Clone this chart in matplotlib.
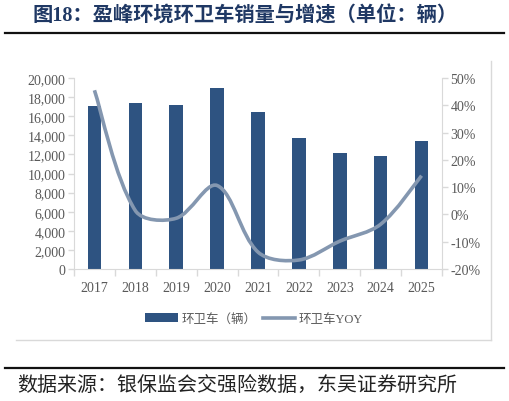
import matplotlib
matplotlib.use("Agg")
import matplotlib.pyplot as plt
from matplotlib.path import Path
from matplotlib.patches import PathPatch, Patch
from matplotlib.lines import Line2D
from matplotlib.ticker import FuncFormatter
import numpy as np

years = ["2017", "2018", "2019", "2020", "2021", "2022", "2023", "2024", "2025"]
sales = [17100, 17400, 17200, 19000, 16400, 13700, 12150, 11800, 13400]
yoy = [45.5, 1.4, -1.4, 10.6, -13.8, -16.7, -9.8, -3.6, 14.2]

title = "图18：盈峰环境环卫车销量与增速（单位：辆）"
source = "数据来源：银保监会交强险数据，东吴证券研究所"
bar_label = "环卫车（辆）"
line_label = "环卫车YOY"

BAR_C = "#2E5381"
LINE_C = "#8497B0"
TXT_C = "#595959"
AX_C = "#D9D9D9"
W, H = 509, 402

cjk = ["Noto Sans CJK SC", "DejaVu Sans"]
mixed = ["Liberation Serif", "Noto Sans CJK SC", "DejaVu Sans"]
serif = ["Liberation Serif", "DejaVu Serif"]

fig = plt.figure(figsize=(W / 100, H / 100), dpi=100)
ax = fig.add_axes([74 / W, 1 - 270 / H, (442 - 74) / W, (270 - 79) / H])
ax2 = ax.twinx()

x = np.arange(len(years))
ax.bar(x, sales, width=0.33, color=BAR_C, zorder=2)
ax.set_xlim(-0.5, len(years) - 0.5)
ax.set_ylim(0, 20000)
ax.set_yticks(np.arange(0, 20001, 2000))
ax.yaxis.set_major_formatter(FuncFormatter(lambda v, p: f"{int(v):,}"))
ax.set_xticks(x)
ax.set_xticklabels(years)
ax.set_xticks(np.arange(-0.5, len(years), 1.0), minor=True)
ax.tick_params(axis="x", which="major", length=0, pad=9)
ax.tick_params(axis="x", which="minor", length=5, color=AX_C, width=1)
ax.tick_params(axis="y", length=4, color=AX_C, width=1, pad=2)

ax2.set_ylim(-20, 50)
ax2.set_xlim(-0.5, len(years) - 0.5)
ax2.set_yticks(np.arange(-20, 51, 10))
ax2.yaxis.set_major_formatter(FuncFormatter(lambda v, p: f"{int(v)}%"))
ax2.tick_params(axis="y", length=4, color=AX_C, width=1, pad=2)

for a in (ax, ax2):
    a.spines["top"].set_visible(False)
    for lab in a.get_xticklabels() + a.get_yticklabels():
        lab.set_fontfamily(serif)
        lab.set_fontsize(10)
        lab.set_color(TXT_C)
ax.spines["right"].set_visible(False)
ax2.spines["right"].set_color(AX_C)
ax2.spines["left"].set_visible(False)
ax2.spines["bottom"].set_visible(False)
ax.spines["left"].set_color(AX_C)
ax.spines["bottom"].set_color(AX_C)

# smoothed line (Excel-like Bezier through the data points, computed in display space)
tr = ax2.transData
pts = tr.transform(np.column_stack([x.astype(float), np.array(yoy, dtype=float)]))
n = len(pts)
verts = [pts[0]]
codes = [Path.MOVETO]
def ctrl(i):
    if i == 0:
        T = pts[1] - pts[0]
        return pts[0], pts[0] + T / 6.0
    if i == n - 1:
        T = pts[-1] - pts[-2]
        return pts[-1] - T / 6.0, pts[-1]
    d1 = np.linalg.norm(pts[i] - pts[i - 1])
    d2 = np.linalg.norm(pts[i + 1] - pts[i])
    T = pts[i + 1] - pts[i - 1]
    return pts[i] - T * d1 / (d1 + d2) / 3.0, pts[i] + T * d2 / (d1 + d2) / 3.0
for i in range(n - 1):
    c1 = ctrl(i)[1]
    c2 = ctrl(i + 1)[0]
    verts += [c1, c2, pts[i + 1]]
    codes += [Path.CURVE4] * 3
verts = tr.inverted().transform(np.array(verts))
path = Path(verts, codes)
ax2.add_patch(PathPatch(path, fill=False, edgecolor=LINE_C, lw=2.6,
                        capstyle="butt", joinstyle="round", zorder=3))

handles = [Patch(facecolor=BAR_C, edgecolor="none"),
           Line2D([0], [0], color=LINE_C, lw=2.6)]
leg = fig.legend(handles, [bar_label, line_label], loc="center",
                 bbox_to_anchor=(254 / W, 1 - 320 / H), ncol=2, frameon=False,
                 prop={"family": mixed, "size": 9}, handlelength=2.6,
                 handleheight=0.65, columnspacing=0.5, handletextpad=0.3)
for t in leg.get_texts():
    t.set_color(TXT_C)

# frame lines
fig.add_artist(Line2D([16 / W, 491 / W], [1 - 341 / H] * 2, color=AX_C, lw=1))
fig.add_artist(Line2D([491 / W] * 2, [1 - 62 / H, 1 - 341 / H], color=AX_C, lw=1))
fig.add_artist(Line2D([5 / W, 504 / W], [1 - 34 / H] * 2, color="#111111", lw=1.6))
fig.add_artist(Line2D([5 / W, 504 / W], [1 - 369 / H] * 2, color="#111111", lw=1.6))

fig.text(32 / W, 1 - 17 / H, title, family=mixed, fontsize=14.6, fontweight="bold",
         color="#1F3864", ha="left", va="center")
fig.text(17 / W, 1 - 386 / H, source, family=cjk, fontsize=14.4, color="#222222",
         ha="left", va="center")

fig.savefig("out.png", dpi=100)
